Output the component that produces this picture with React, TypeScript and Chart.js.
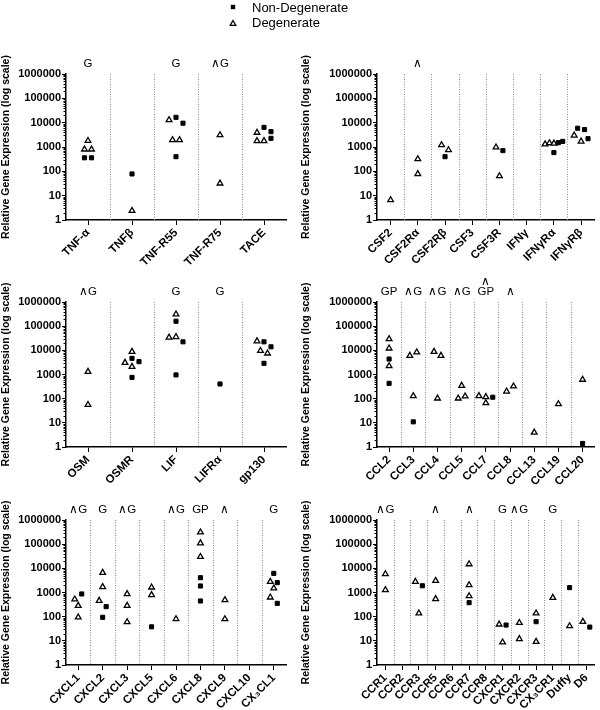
import React, { useEffect, useRef } from 'react';
import { Chart, registerables } from 'chart.js';

Chart.register(...registerables);

const FONT = '"Liberation Sans", Arial, Helvetica, sans-serif';
Chart.defaults.font.family = FONT;

// ---------- shared axis ----------
const yTickValues = [1, 10, 100, 1000, 10000, 100000, 1000000];
const yTickLabels = ['1', '10', '100', '1000', '10000', '100000', '1000000'];
const yTitle = 'Relative Gene Expression (log scale)';
const legendLabels = ['Non-Degenerate', 'Degenerate'];

// ---------- panel 1 ----------
const tnfCategories = ['TNF-α', 'TNFβ', 'TNF-R55', 'TNF-R75', 'TACE'];
const tnfNonDegenerate = [[360, 360], [78], [16600, 9500, 400], [], [6400, 4270, 2270]];
const tnfDegenerate = [[1800, 800, 800], [2.4], [12900, 1940, 1940], [3100, 32], [3900, 1780, 1780]];
const tnfNotes = ['G', '', 'G', '∧G', ''];

// ---------- panel 2 ----------
const csfCategories = ['CSF2', 'CSF2Rα', 'CSF2Rβ', 'CSF3', 'CSF3R', 'IFNγ', 'IFNγRα', 'IFNγRβ'];
const csfNonDegenerate = [[], [], [400], [], [710], [], [1500, 1700, 590], [5900, 5200, 2200]];
const csfDegenerate = [[6.6], [320, 78], [1200, 750], [], [970, 64], [], [1300, 1450, 1400], [3000, 1700]];
const csfNotes = ['', '∧', '', '', '', '', '', ''];

// ---------- panel 3 ----------
const osmCategories = ['OSM', 'OSMR', 'LIF', 'LIFRα', 'gp130'];
const osmNonDegenerate = [[], [4650, 3400, 760], [160000, 22500, 960], [405], [22500, 14000, 2900]];
const osmDegenerate = [[1310, 56], [8800, 3080, 2100], [310000, 34000, 36000], [], [24000, 9600, 7500]];
const osmNotes = ['∧G', '', 'G', 'G', ''];

// ---------- panel 4 ----------
const cclCategories = ['CCL2', 'CCL3', 'CCL4', 'CCL5', 'CCL7', 'CCL8', 'CCL13', 'CCL19', 'CCL20'];
const cclNonDegenerate = [[4370, 430], [11], [], [], [115], [], [], [], [1.4]];
const cclDegenerate = [[29500, 12100, 2240], [6000, 8300, 129], [8800, 6000, 103], [345, 103, 125], [130, 66, 118], [200, 325], [4], [60], [615]];
const cclNotes = ['GP', '∧G', '∧G', '∧G', '∧\nGP', '∧', '', '', ''];

// ---------- panel 5 ----------
const cxclCategories = ['CXCL1', 'CXCL2', 'CXCL3', 'CXCL5', 'CXCL6', 'CXCL8', 'CXCL9', 'CXCL10', 'CX₃CL1'];
const cxclNonDegenerate = [[870], [260, 94], [], [38], [], [4100, 1860, 445], [], [], [6200, 2560, 355]];
const cxclDegenerate = [[525, 285, 94], [6600, 1700, 460], [870, 285, 60], [1630, 790], [80], [310000, 110000, 30000], [490, 80], [], [2800, 1500, 630]];
const cxclNotes = ['∧G', 'G', '∧G', '', '∧G', 'GP', '∧', '', 'G'];

// ---------- panel 6 ----------
const ccrCategories = ['CCR1', 'CCR2', 'CCR3', 'CCR5', 'CCR6', 'CCR7', 'CCR8', 'CXCR1', 'CXCR2', 'CXCR3', 'CX₃CR1', 'Duffy', 'D6'];
const ccrNonDegenerate = [[], [], [1900], [], [], [380], [], [45], [], [62], [], [1590], [37]];
const ccrDegenerate = [[5800, 1270], [], [2800, 138], [3070, 540], [], [15000, 2040, 715], [], [48, 8.7], [56, 12], [138, 9.2], [610], [41], [62]];
const ccrNotes = ['∧G', '', '', '∧', '', '∧', '', 'G', '∧G', '', 'G', '', ''];

type PanelDef = {
  categories: string[];
  nonDeg: number[][];
  deg: number[][];
  notes: string[];
  left: number;
  top: number;
  height: number;
  padTop: number;
  padRight: number;
  yWidth: number;
  xHeight: number;
};

const PLOT_W = 220;
const ROW_GAP_DECADES = 0.26;

// Column-scatter layout: points of similar value are placed side by side
function buildPoints(cats: string[], nonDeg: number[][], deg: number[][]) {
  const catPx = PLOT_W / cats.length;
  const sq: { x: number; y: number }[] = [];
  const tri: { x: number; y: number }[] = [];
  cats.forEach((_, i) => {
    const pts = [
      ...deg[i].map((v) => ({ v, s: 1 })),
      ...nonDeg[i].map((v) => ({ v, s: 0 })),
    ].map((p, idx) => ({ ...p, idx }));
    const sorted = [...pts].sort((a, b) => b.v - a.v);
    const clusters: typeof pts[] = [];
    let cur: typeof pts | null = null;
    for (const p of sorted) {
      if (cur && Math.log10(cur[0].v) - Math.log10(p.v) < ROW_GAP_DECADES) cur.push(p);
      else {
        cur = [p];
        clusters.push(cur);
      }
    }
    for (const c of clusters) {
      c.sort((a, b) => a.idx - b.idx);
      const k = c.length;
      const step = k > 1 ? Math.min(7, (catPx * 0.65) / (k - 1)) : 0;
      c.forEach((p, j) => {
        const off = ((j - (k - 1) / 2) * step) / catPx;
        (p.s ? tri : sq).push({ x: i + off, y: p.v });
      });
    }
  });
  return { sq, tri };
}

function decorPlugin(p: PanelDef) {
  const n = p.categories.length;
  return {
    id: 'decor',
    beforeDatasetsDraw(chart: any) {
      const { ctx, chartArea } = chart;
      const xs = chart.scales.x;
      ctx.save();
      ctx.strokeStyle = '#8c8c8c';
      ctx.lineWidth = 1;
      ctx.setLineDash([1, 1.5]);
      for (let i = 0; i < n - 1; i++) {
        const x = Math.round(xs.getPixelForValue(i + 0.5)) + 0.5;
        ctx.beginPath();
        ctx.moveTo(x, chartArea.top);
        ctx.lineTo(x, chartArea.bottom);
        ctx.stroke();
      }
      ctx.restore();
    },
    afterDraw(chart: any) {
      const { ctx, chartArea } = chart;
      const xs = chart.scales.x;
      const ys = chart.scales.y;
      ctx.save();
      // minor log ticks
      ctx.strokeStyle = '#000';
      ctx.lineWidth = 1;
      const x0 = chartArea.left;
      for (let d = 0; d < 6; d++) {
        for (let k = 2; k <= 9; k++) {
          const y = Math.round(ys.getPixelForValue(k * Math.pow(10, d))) + 0.5;
          ctx.beginPath();
          ctx.moveTo(x0 - 2.5, y);
          ctx.lineTo(x0, y);
          ctx.stroke();
        }
      }
      // significance notes
      ctx.fillStyle = '#000';
      ctx.font = `11.5px ${FONT}`;
      ctx.textAlign = 'center';
      ctx.textBaseline = 'middle';
      p.notes.forEach((t, i) => {
        if (!t) return;
        const lines = t.split('\n');
        const x = xs.getPixelForValue(i);
        lines.forEach((ln, j) => {
          ctx.fillText(ln, x, chartArea.top - 10 - (lines.length - 1 - j) * 10);
        });
      });
      ctx.restore();
    },
  };
}

function makeConfig(p: PanelDef): any {
  const n = p.categories.length;
  const { sq, tri } = buildPoints(p.categories, p.nonDeg, p.deg);
  return {
    type: 'scatter',
    data: {
      datasets: [
        {
          label: legendLabels[0],
          data: sq,
          pointStyle: 'rect',
          pointRadius: 2.9,
          backgroundColor: '#000',
          borderColor: '#000',
          borderWidth: 1,
          clip: false,
        },
        {
          label: legendLabels[1],
          data: tri,
          pointStyle: 'triangle',
          pointRadius: 3.3,
          backgroundColor: '#fff',
          borderColor: '#000',
          borderWidth: 1.3,
          clip: false,
        },
      ],
    },
    options: {
      animation: false,
      responsive: false,
      maintainAspectRatio: false,
      events: [],
      layout: { padding: { top: p.padTop, right: p.padRight, left: 0, bottom: 0 } },
      plugins: { legend: { display: false }, tooltip: { enabled: false } },
      scales: {
        x: {
          type: 'linear',
          min: -0.5,
          max: n - 0.5,
          afterBuildTicks: (s: any) => {
            s.ticks = p.categories.map((_, i) => ({ value: i }));
          },
          afterFit: (s: any) => {
            s.height = p.xHeight;
          },
          ticks: {
            autoSkip: false,
            maxRotation: 45,
            minRotation: 45,
            padding: 1,
            color: '#000',
            font: { family: FONT, size: 11.5, weight: 'bold' },
            callback: (v: number) => p.categories[Math.round(v)],
          },
          grid: { drawOnChartArea: false, drawTicks: true, tickLength: 5, color: '#000', lineWidth: 1 },
          border: { color: '#000', width: 1.5 },
        },
        y: {
          type: 'logarithmic',
          min: 1,
          max: 1000000,
          afterBuildTicks: (s: any) => {
            s.ticks = yTickValues.map((v) => ({ value: v }));
          },
          afterFit: (s: any) => {
            s.width = p.yWidth;
          },
          ticks: {
            padding: 1,
            color: '#000',
            font: { family: FONT, size: 11, weight: 'bold' },
            callback: (_v: number, i: number) => yTickLabels[i],
          },
          title: {
            display: true,
            text: yTitle,
            color: '#000',
            padding: 0,
            font: { family: FONT, size: 10.5, weight: 'bold' },
          },
          grid: { drawOnChartArea: false, drawTicks: true, tickLength: 4, color: '#000', lineWidth: 1 },
          border: { color: '#000', width: 1.5 },
        },
      },
    },
    plugins: [decorPlugin(p)],
  };
}

const LEFT = { left: 0, padRight: 14, yWidth: 66 };
const RIGHT = { left: 300, padRight: 3, yWidth: 77 };
const ROW1 = { top: 0, height: 280, padTop: 74, xHeight: 60 };
const ROW2 = { top: 240, height: 270, padTop: 62, xHeight: 63 };
const ROW3 = { top: 470, height: 240, padTop: 50, xHeight: 45 };

const panels: PanelDef[] = [
  { categories: tnfCategories, nonDeg: tnfNonDegenerate, deg: tnfDegenerate, notes: tnfNotes, ...LEFT, ...ROW1 },
  { categories: csfCategories, nonDeg: csfNonDegenerate, deg: csfDegenerate, notes: csfNotes, ...RIGHT, ...ROW1 },
  { categories: osmCategories, nonDeg: osmNonDegenerate, deg: osmDegenerate, notes: osmNotes, ...LEFT, ...ROW2 },
  { categories: cclCategories, nonDeg: cclNonDegenerate, deg: cclDegenerate, notes: cclNotes, ...RIGHT, ...ROW2 },
  { categories: cxclCategories, nonDeg: cxclNonDegenerate, deg: cxclDegenerate, notes: cxclNotes, ...LEFT, ...ROW3 },
  { categories: ccrCategories, nonDeg: ccrNonDegenerate, deg: ccrDegenerate, notes: ccrNotes, ...RIGHT, ...ROW3 },
];

function Panel({ def }: { def: PanelDef }) {
  const ref = useRef<HTMLCanvasElement | null>(null);
  useEffect(() => {
    if (!ref.current) return;
    const chart = new Chart(ref.current, makeConfig(def));
    return () => chart.destroy();
  }, [def]);
  return (
    <canvas
      ref={ref}
      width={300}
      height={def.height}
      style={{ position: 'absolute', left: def.left, top: def.top, width: 300, height: def.height }}
    />
  );
}

export default function App() {
  return (
    <div style={{ position: 'absolute', left: 0, top: 0, width: 600, height: 710, background: '#fff', overflow: 'hidden' }}>
      {panels.map((p, i) => (
        <Panel key={i} def={p} />
      ))}
      <div style={{ position: 'absolute', left: 228, top: 0, fontFamily: FONT, fontSize: 13, lineHeight: '15px', color: '#000', zIndex: 5 }}>
        <div style={{ position: 'relative', height: 15, whiteSpace: 'nowrap' }}>
          <svg width={10} height={15} style={{ position: 'absolute', left: 0, top: 0 }}>
            <rect x={2.8} y={4.8} width={4.4} height={4.4} fill="#000" />
          </svg>
          <span style={{ position: 'absolute', left: 24, top: 0 }}>{legendLabels[0]}</span>
        </div>
        <div style={{ position: 'relative', height: 15, whiteSpace: 'nowrap' }}>
          <svg width={10} height={15} style={{ position: 'absolute', left: 0, top: 0 }}>
            <polygon points="5,5.5 7.8,10.3 2.2,10.3" fill="#fff" stroke="#000" strokeWidth={1.3} />
          </svg>
          <span style={{ position: 'absolute', left: 24, top: 0 }}>{legendLabels[1]}</span>
        </div>
      </div>
    </div>
  );
}
